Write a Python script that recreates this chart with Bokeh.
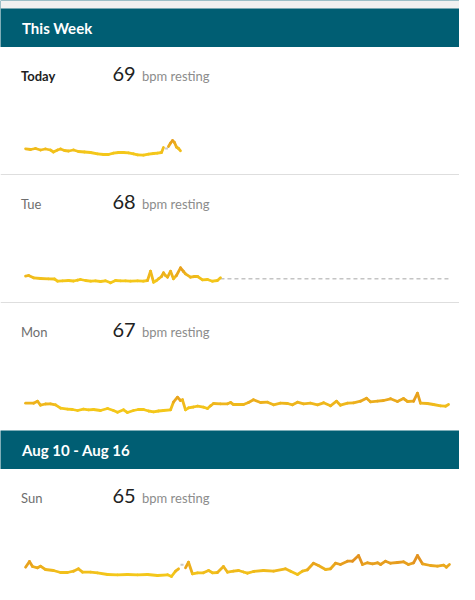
import numpy as np
from bokeh.plotting import figure
from bokeh.layouts import column
from bokeh.models import Range1d
from bokeh.core.properties import value
from bokeh.embed import file_html
from bokeh.resources import INLINE

# ---------------- data ----------------
section_titles = ["This Week", "Aug 10 - Aug 16"]
day_labels = ["Today", "Tue", "Mon", "Sun"]
resting_bpm = [69, 68, 67, 65]
unit_label = "bpm resting"

today_h = [0.06, 0.34, 0.62, 0.90, 1.18, 1.46, 1.63, 1.86, 2.03, 2.25, 2.48, 2.76, 3.04, 3.38, 3.72,
           4.11, 4.45, 4.73, 5.01, 5.30, 5.58, 5.86, 6.14, 6.37, 6.70, 6.99, 7.27, 7.49, 7.72, 7.83,
           float("nan"), 8.11, 8.23, 8.34, 8.45, 8.56, 8.68, 8.79]
today_bpm = [60.7, 60, 61, 59.5, 60.5, 59.5, 57.5, 59.5, 60.5, 59, 58.5, 59.5, 58, 57.5, 57,
             55.7, 55, 55, 56.3, 57, 57, 56.7, 55.7, 54.7, 54.3, 55.3, 56, 56.3, 57, 62,
             float("nan"), 63, 66.5, 69, 67, 62.5, 61, 58.7]
today_gap_h = [7.92, 8.08]
today_gap_bpm = [61, 61]

tue_h = [0.06, 0.23, 0.51, 0.90, 1.35, 1.69, 1.86, 2.14, 2.48, 2.76, 2.99, 3.15, 3.44, 3.72, 4.00,
         4.28, 4.56, 4.85, 5.13, 5.41, 5.69, 5.97, 6.37, 6.70, 6.93, 7.10, 7.27, 7.44, 7.55, 7.72,
         7.83, 7.94, 8.06, 8.23, 8.39, 8.56, 8.79, 8.96, 9.07, 9.35, 9.58, 9.75, 10.03, 10.31, 10.59,
         10.87, 11.04]
tue_bpm = [61.3, 62, 59.7, 59, 58.7, 58.5, 56.3, 56.7, 57, 56.5, 57.3, 58, 57, 56.3, 56.7,
           56, 56.7, 54.7, 57, 56.7, 56.7, 56.3, 56.7, 56.3, 57, 66.3, 55.3, 57, 58.7, 61,
           64.7, 62, 60.3, 66.3, 58.7, 62, 69.7, 66, 63.7, 60.3, 61, 61, 57.7, 58, 56.3,
           57, 59.7]
tue_pending_h = [11.04, 23.89]
tue_pending_bpm = [58.7, 58.7]

mon_h = [0.06, 0.51, 0.73, 0.90, 1.18, 1.46, 1.75, 2.03, 2.42, 2.70, 2.99, 3.32, 3.61, 3.89, 4.28,
         4.68, 5.01, 5.24, 5.58, 5.80, 6.14, 6.42, 6.70, 6.99, 7.27, 7.55, 7.83, 8.23, 8.39, 8.62,
         8.79, 8.90, 9.07, 9.24, 9.52, 9.75, 10.08, 10.31, 10.48, 10.65, 11.04, 11.44, 11.61, 11.77,
         12.00, 12.34, 12.62, 12.90, 13.30, 13.69, 14.03, 14.42, 14.82, 15.10, 15.38, 15.72, 16.11,
         16.51, 16.85, 17.24, 17.58, 17.80, 18.20, 18.54, 18.93, 19.27, 19.49, 19.89, 20.23, 20.62,
         21.01, 21.35, 21.58, 21.92, 22.14, 22.31, 22.70, 23.04, 23.44, 23.72, 23.89]
mon_bpm = [62.3, 62.3, 64.3, 60.3, 61.5, 61.7, 60.7, 57.3, 56.3, 56, 55, 56.3, 55.7, 56, 55,
           57, 55, 53.3, 55.7, 53, 55, 56, 56, 54.5, 53.7, 54.5, 55, 55.7, 63.3, 68.3,
           65, 65.7, 55.7, 57.7, 58.5, 59.3, 58.3, 57, 59.7, 62, 61.7, 61.7, 63, 61,
           61, 61, 63, 65.7, 63, 63.3, 60.7, 62.3, 62, 60.7, 63.3, 61.7, 62.3,
           60.7, 62.7, 59.7, 64.3, 60.3, 62.3, 62.7, 64.3, 67.3, 63.7, 64.3, 65, 66.7,
           64, 67, 64, 64.3, 72.3, 62.3, 62, 61, 59.7, 59.3, 61]

sun_h = [0.06, 0.28, 0.45, 0.73, 0.90, 1.18, 1.63, 2.03, 2.42, 2.76, 3.04, 3.27, 3.72, 4.11, 4.68,
         5.24, 5.80, 6.37, 6.93, 7.49, 8.06, 8.28, 8.51, 8.68, float("nan"), 9.07, 9.24, 9.46, 9.75,
         10.08, 10.37, 10.59, 10.87, 11.21, 11.44, 11.77, 12.06, 12.34, 12.56, 12.90, 13.46, 14.03,
         14.70, 14.99, 15.38, 15.66, 15.94, 16.28, 16.56, 16.96, 17.24, 17.52, 17.80, 18.20, 18.48,
         18.82, 19.04, 19.32, 19.61, 19.89, 20.06, 20.34, 20.62, 21.01, 21.35, 21.63, 21.92, 22.14,
         22.42, 22.87, 23.27, 23.61, 23.77, 23.94]
sun_bpm = [64.3, 70, 65, 63.7, 65.3, 62, 61, 59, 59, 60.3, 62.7, 59.3, 59.3, 58.7, 57,
           56.7, 57, 56.7, 57, 56, 56.7, 55, 60.3, 62.7, float("nan"), 63.7, 69.3, 57.7, 58.7,
           58.7, 61, 58.7, 59, 65, 59.3, 60.3, 61, 59.5, 58.3, 60, 61, 60.3,
           62.7, 60.3, 57, 60.3, 61.7, 68.3, 66, 62, 62.7, 68.3, 67, 70.3, 70.3,
           76, 67, 68.7, 67.7, 68.7, 67, 70.3, 68.3, 69, 69.7, 67, 68.7, 76,
           67.7, 66, 65.3, 66.3, 64.3, 67]
sun_gap_h = [8.79, 8.96]
sun_gap_bpm = [66.7, 66.7]

# ---------------- layout / style ----------------
W = 459
FONT = "Lato"
TEAL = "#005e73"
LOW_C = np.array([0xF4, 0xC7, 0x1A])
HIGH_C = np.array([0xE3, 0x92, 0x1F])
PX_PER_H = 426 / 24.0
X0_REF, X1_REF = 0, 459          # reference columns covered by the figures
LINE_START, LINE_END = 24, 450   # columns of 0 h and 24 h


def seg_color(b):
    t = np.clip((b - 57.0) / 15.0, 0, 1)
    c = LOW_C + (HIGH_C - LOW_C) * t
    return "#%02x%02x%02x" % tuple(int(round(v)) for v in c)


def header(title, h=39, band=0, text_y=19):
    p = figure(width=W, height=h, output_backend="svg", toolbar_location=None,
               x_range=Range1d(X0_REF, X1_REF), y_range=Range1d(h, 0),
               min_border=0, outline_line_color=None, background_fill_color=TEAL,
               border_fill_color=TEAL)
    p.axis.visible = False
    p.grid.visible = False
    if band:
        p.quad(left=[X0_REF], right=[X1_REF], top=[0], bottom=[band],
               fill_color="#f1f1f1", line_color=None)
    p.text(x=[21.5], y=[text_y], text=[title], text_color="white", text_font=value(FONT),
           text_font_size="15px", text_font_style="bold", text_baseline="middle")
    return p


def row(label, bold, bpm_val, hours, bpm, h=128, sep=True, gap=None, pending=None):
    top = 162
    xr = Range1d(-(LINE_START - X0_REF) / PX_PER_H, 24 + (X1_REF - LINE_END) / PX_PER_H)
    p = figure(width=W, height=h, output_backend="svg", toolbar_location=None,
               x_range=xr, y_range=Range1d(top - h, top),
               min_border=0, outline_line_color=None, background_fill_color="white",
               border_fill_color="white")
    p.extra_x_ranges = {"px": Range1d(X0_REF, X1_REF)}
    p.extra_y_ranges = {"px": Range1d(h, 0)}
    p.axis.visible = False
    p.grid.visible = False

    if pending is not None:
        p.line(pending[0], pending[1], line_color="#c4c4c4", line_width=1.6, line_dash="4 3")
    if gap is not None:
        p.line(gap[0], gap[1], line_color="#c8c8c8", line_width=2)

    hh = np.array(hours, dtype=float)
    bb = np.array(bpm, dtype=float)
    ok = ~(np.isnan(hh[:-1]) | np.isnan(hh[1:]))
    x0, x1 = hh[:-1][ok], hh[1:][ok]
    y0, y1 = bb[:-1][ok], bb[1:][ok]
    cols = [seg_color((a + b) / 2) for a, b in zip(y0, y1)]
    p.segment(x0=x0, y0=y0, x1=x1, y1=y1, line_color=cols, line_width=2.8,
              line_cap="round", line_join="round")

    p.text(x=[20.5], y=[28], text=[label], text_font=value(FONT), text_font_size="13px",
           text_color="#1e1e1e" if bold else "#6e6e6e",
           text_font_style="bold" if bold else "normal", text_baseline="middle",
           x_range_name="px", y_range_name="px")
    p.text(x=[112], y=[26], text=[str(bpm_val)], text_font=value(FONT), text_font_size="20px",
           text_color="#222222", text_baseline="middle", x_range_name="px", y_range_name="px")
    p.text(x=[141.5], y=[28.5], text=[unit_label], text_font=value(FONT), text_font_size="13px",
           text_color="#8c8c8c", text_baseline="middle", x_range_name="px", y_range_name="px")
    if sep:
        p.segment(x0=[X0_REF], y0=[h - 0.75], x1=[X1_REF], y1=[h - 0.75], line_color="#dedede",
                  line_width=1.5, x_range_name="px", y_range_name="px")
    return p


figs = [
    header(section_titles[0], h=47, band=8, text_y=27.5),
    row(day_labels[0], True, resting_bpm[0], today_h, today_bpm, h=128,
        gap=(today_gap_h, today_gap_bpm)),
    row(day_labels[1], False, resting_bpm[1], tue_h, tue_bpm, h=128,
        pending=(tue_pending_h, tue_pending_bpm)),
    row(day_labels[2], False, resting_bpm[2], mon_h, mon_bpm, h=127, sep=False),
    header(section_titles[1], h=39, text_y=19),
    row(day_labels[3], False, resting_bpm[3], sun_h, sun_bpm, h=115, sep=False,
        gap=(sun_gap_h, sun_gap_bpm)),
]

layout = column(*figs, spacing=0)
open("out.html", "w").write(file_html(layout, INLINE))
